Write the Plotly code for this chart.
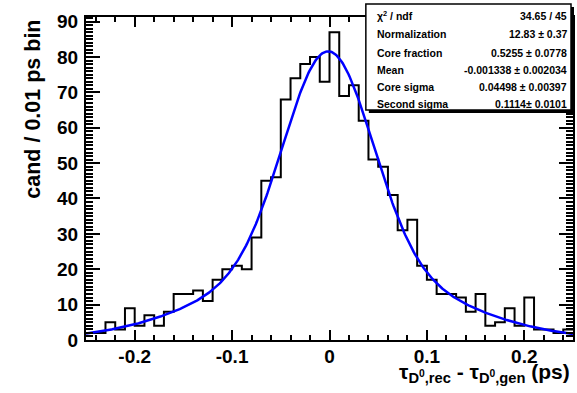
import numpy as np
import plotly.graph_objects as go

# ---- data ----
bin_low = -0.25
bin_width = 0.01
counts = [2, 2, 5, 3, 9, 4, 7, 4, 8, 13,
          13, 14, 11, 17, 20, 21, 20, 29, 45, 46,
          68, 74, 78, 80, 73, 87, 69, 72, 62, 51,
          49, 41, 31, 34, 21, 17, 13, 13, 12, 8,
          13, 4, 5, 9, 4, 12, 3, 3, 2, 3]

# fit parameters (double Gaussian) as shown in the stats box
fit_norm = 12.83
fit_core_frac = 0.5255
fit_mean = -0.001338
fit_core_sigma = 0.04498
fit_second_sigma = 0.1114

stat_labels = ["χ<sup>2</sup> / ndf", "Normalization", "Core fraction",
               "Mean", "Core sigma", "Second sigma"]
stat_values = ["34.65 / 45", "12.83 ± 0.37", "0.5255 ± 0.0778",
               "-0.001338 ± 0.002034", "0.04498 ± 0.00397", "0.1114± 0.0101"]

x_tickvals = [-0.2, -0.1, 0, 0.1, 0.2]
x_ticktext = ["-0.2", "-0.1", "0", "0.1", "0.2"]
y_tickvals = [0, 10, 20, 30, 40, 50, 60, 70, 80, 90]

# ---- derived ----
n = len(counts)
edges = bin_low + bin_width * np.arange(n + 1)
step_y = list(counts) + [counts[-1]]

xf = np.linspace(edges[0], edges[-1], 500)
def gauss(x, m, s):
    return np.exp(-0.5 * ((x - m) / s) ** 2) / (s * np.sqrt(2 * np.pi))
yf = fit_norm * (fit_core_frac * gauss(xf, fit_mean, fit_core_sigma)
                 + (1 - fit_core_frac) * gauss(xf, fit_mean, fit_second_sigma))

W, H = 577, 393
ML, MR, MT, MB = 86, 2, 17, 53
PW, PH = W - ML - MR, H - MT - MB
def px(xp):
    return (xp - ML) / PW
def py(yp):
    return (H - MB - yp) / PH

FONT = "Liberation Sans"

fig = go.Figure()
fig.add_trace(go.Scatter(x=edges, y=step_y, mode="lines", line_shape="hv",
                         line=dict(color="black", width=2), hoverinfo="skip"))
fig.add_trace(go.Scatter(x=xf, y=yf, mode="lines",
                         line=dict(color="#0000ff", width=2.5), hoverinfo="skip"))

axis_common = dict(showline=True, linecolor="black", linewidth=2, mirror="ticks",
                   ticks="inside", tickcolor="black", tickwidth=2, showgrid=False,
                   zeroline=False)

fig.update_xaxes(range=[edges[0], edges[-1]], tickvals=x_tickvals, ticktext=x_ticktext,
                 ticklen=10, ticklabelstandoff=-2,
                 minor=dict(dtick=0.02, tick0=0, ticks="inside", ticklen=5,
                            tickwidth=2, tickcolor="black", showgrid=False),
                 tickfont=dict(size=19, family=FONT, color="black", weight="bold"),
                 **axis_common)
fig.update_yaxes(range=[0, 91.3], tickvals=y_tickvals, ticklen=14, ticklabelstandoff=2,
                 minor=dict(dtick=1, tick0=0, ticks="inside", ticklen=7,
                            tickwidth=2, tickcolor="black", showgrid=False),
                 tickfont=dict(size=19, family=FONT, color="black", weight="bold"),
                 **axis_common)

annotations = []
# x title
annotations.append(dict(xref="paper", yref="paper", x=px(574), y=py(373),
                        xanchor="right", yanchor="middle", showarrow=False,
                        text="τ<sub>D<sup>0</sup>,rec</sub> - τ<sub>D<sup>0</sup>,gen</sub> (ps)",
                        font=dict(size=21, family=FONT, color="black", weight="bold")))
# y title
annotations.append(dict(xref="paper", yref="paper", x=px(32), y=py(18),
                        xanchor="center", yanchor="top", showarrow=False, textangle=-90,
                        text="cand / 0.01 ps bin",
                        font=dict(size=21.5, family=FONT, color="black", weight="bold")))

row_y = [16, 34.5, 52.5, 70, 87, 103.5]
for lab, val, ry in zip(stat_labels, stat_values, row_y):
    annotations.append(dict(xref="paper", yref="paper", x=px(376), y=py(ry),
                            xanchor="left", yanchor="middle", showarrow=False, text=lab,
                            font=dict(size=10.5, family=FONT, color="black", weight="bold")))
    annotations.append(dict(xref="paper", yref="paper", x=px(571), y=py(ry),
                            xanchor="right", yanchor="middle", showarrow=False, text=val,
                            font=dict(size=10.5, family=FONT, color="black", weight="bold")))

shapes = [
    # shadow
    dict(type="rect", xref="paper", yref="paper", x0=px(370), x1=px(576), y0=py(113), y1=py(7),
         fillcolor="black", line=dict(width=0), layer="above"),
    # box
    dict(type="rect", xref="paper", yref="paper", x0=px(367), x1=px(573), y0=py(110), y1=py(4),
         fillcolor="white", line=dict(color="black", width=1.5), layer="above"),
]

fig.update_layout(width=W, height=H, margin=dict(l=ML, r=MR, t=MT, b=MB),
                  plot_bgcolor="white", paper_bgcolor="white", showlegend=False,
                  annotations=annotations, shapes=shapes)

fig.write_html("out.html", config={"displayModeBar": False},
               post_script="document.body.style.margin='0';")
